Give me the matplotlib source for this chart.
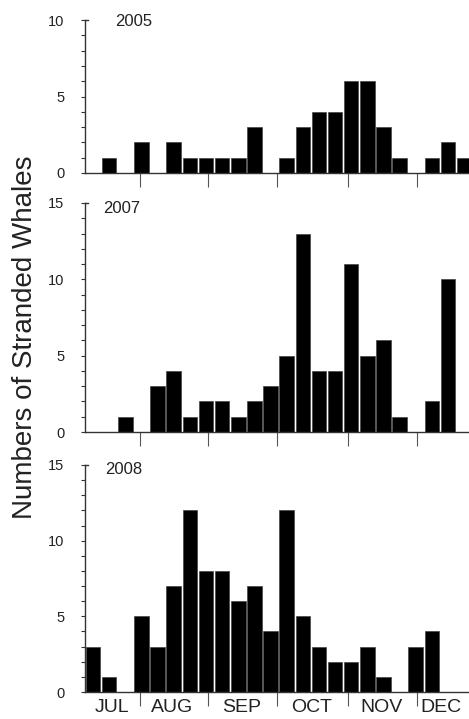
import numpy as np
import matplotlib
matplotlib.use("Agg")
from matplotlib import pyplot as plt

plt.rcParams['font.family'] = ['Liberation Sans', 'DejaVu Sans']

# weekly counts of stranded whales, late June -> December
counts_2005 = [0, 1, 0, 2, 0, 2, 1, 1, 1, 1, 3, 0, 1, 3, 4, 4, 6, 6, 3, 1, 0, 1, 2, 1]
counts_2007 = [0, 0, 1, 0, 3, 4, 1, 2, 2, 1, 2, 3, 5, 13, 4, 4, 11, 5, 6, 1, 0, 2, 10, 0]
counts_2008 = [3, 1, 0, 5, 3, 7, 12, 8, 8, 6, 7, 4, 12, 5, 3, 2, 2, 3, 1, 0, 3, 4, 0, 0]
years = ["2005", "2007", "2008"]

month_edges = [3.41, 7.63, 11.9, 16.3, 20.6]
month_centers = [1.67, 5.39, 9.73, 14.07, 18.4, 22.07]
month_names = ["JUL", "AUG", "SEP", "OCT", "NOV", "DEC"]

W, H = 469, 719
fig = plt.figure(figsize=(W / 100, H / 100), dpi=100)

# axes boxes in pixels: (left, x-axis y, top y)
boxes = [(85, 173, 20), (85, 432, 203), (85, 692, 465)]
ymaxes = [10, 15, 15]
year_pos = [(1.86, 9.87), (1.12, 14.63), (1.24, 14.67)]
data = [counts_2005, counts_2007, counts_2008]

for k in range(3):
    left, y0, y1 = boxes[k]
    ax = fig.add_axes([left / W, 1 - y0 / H, (W - left) / W, (y0 - y1) / H])
    vals = data[k]
    x = np.arange(len(vals))
    ax.bar(x + 0.05, vals, width=0.9, align='edge', color='black',
           edgecolor='#444444', linewidth=0.5)
    ax.set_xlim(0, 23.8)
    ax.set_ylim(0, ymaxes[k])
    for s in ['top', 'right']:
        ax.spines[s].set_visible(False)
    for s in ['left', 'bottom']:
        ax.spines[s].set_color('#333333')
        ax.spines[s].set_linewidth(1.0)
    # small bracket at the top of the y axis
    ax.plot([0, 0.2], [ymaxes[k], ymaxes[k]], color='#333333', lw=1.0,
            clip_on=False)

    ax.set_yticks(np.arange(0, ymaxes[k] + 1, 5))
    ax.set_yticks(np.arange(0, ymaxes[k] + 1, 1), minor=True)
    ax.tick_params(axis='y', which='both', direction='out', length=3,
                   width=0.8, color='#333333', labelsize=10.5,
                   labelcolor='#222222', pad=12)

    ax.set_xticks(month_edges)
    ax.set_xticklabels([])
    ax.tick_params(axis='x', which='major', direction='out', length=10,
                   width=0.8, color='#555555')
    if k == 2:
        ax.set_xticks(month_centers, minor=True)
        ax.set_xticklabels(month_names, minor=True)
        ax.tick_params(axis='x', which='minor', length=0, labelsize=14,
                       labelcolor='#222222', pad=5)
    else:
        ax.set_xticks([], minor=True)

    ax.text(year_pos[k][0], year_pos[k][1], years[k], fontsize=12,
            color='#222222', ha='left', va='center')

fig.text(25 / W, 1 - 337 / H, "Numbers of Stranded Whales", rotation=90,
         ha='center', va='center', fontsize=20, color='#222222')

fig.savefig("out.png", dpi=100)
